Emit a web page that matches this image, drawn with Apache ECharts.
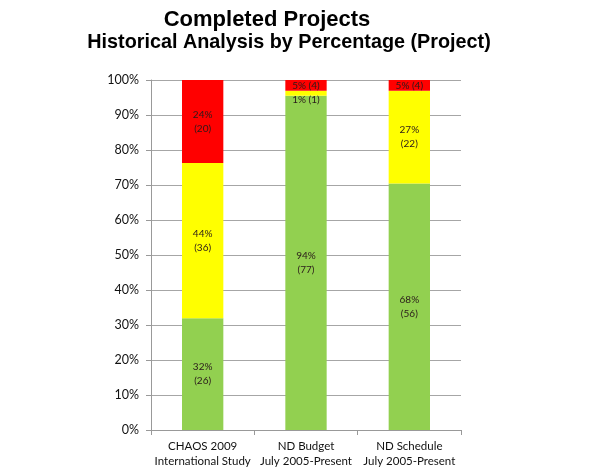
<!DOCTYPE html>
<html>
<head>
<meta charset="utf-8">
<script src="https://cdn.jsdelivr.net/npm/echarts@6/dist/echarts.min.js"></script>
<style>html,body{margin:0;padding:0;background:#fff;}#c{width:596px;height:474px;}</style>
</head>
<body>
<div id="c"></div>
<script>
var categories = ['CHAOS 2009\nInternational Study', 'ND Budget\nJuly 2005-Present', 'ND Schedule\nJuly 2005-Present'];
var greenValues = [31.9, 95.5, 70.4];
var yellowValues = [44.4, 1.4, 26.5];
var redValues = [23.7, 3.1, 3.1];
var greenLabels = ['32%\n(26)', '94%\n(77)', '68%\n(56)'];
var yellowLabels = ['44%\n(36)', '1% (1)', '27%\n(22)'];
var redLabels = ['24%\n(20)', '5% (4)', '5% (4)'];
var yTicks = [0, 10, 20, 30, 40, 50, 60, 70, 80, 90, 100];

var chart = echarts.init(document.getElementById('c'), null, {renderer: 'canvas'});
var FONT = 'Lato, "Open Sans", sans-serif';
var TFONT = 'Arial, "Liberation Sans", sans-serif';

function mk(name, vals, labels, color, offsets) {
  return {
    name: name, type: 'bar', stack: 'a', barWidth: '40%',
    itemStyle: {color: color},
    label: {
      show: true, position: 'inside', color: '#2a1a1a', fontFamily: FONT, fontSize: 10, lineHeight: 14,
      formatter: function (p) { return labels[p.dataIndex]; }
    },
    data: vals.map(function (v, i) {
      var d = {value: v};
      if (offsets && offsets[i]) d.label = {offset: offsets[i]};
      return d;
    })
  };
}

chart.setOption({
  animation: false,
  title: [
    {text: 'Completed Projects', left: 262, top: 4, textAlign: 'center',
     textStyle: {fontFamily: TFONT, fontWeight: 'bold', fontSize: 22, color: '#000'}},
    {text: 'Historical Analysis by Percentage (Project)', left: 284, top: 28, textAlign: 'center',
     textStyle: {fontFamily: TFONT, fontWeight: 'bold', fontSize: 19.8, color: '#000'}}
  ],
  grid: {left: 151, top: 80, width: 310, height: 350, containLabel: false},
  xAxis: {
    type: 'category', data: categories,
    axisLine: {lineStyle: {color: '#999', width: 1}},
    axisTick: {show: true, length: 5, lineStyle: {color: '#999'}},
    axisLabel: {color: '#111', fontFamily: FONT, fontSize: 11.5, lineHeight: 15, margin: 9, interval: 0}
  },
  yAxis: {
    type: 'value', min: 0, max: 100, interval: 10,
    axisLine: {show: true, lineStyle: {color: '#999', width: 1}},
    axisTick: {show: true, length: 5, inside: false, lineStyle: {color: '#999'}},
    splitLine: {lineStyle: {color: '#a6a6a6', width: 1}},
    axisLabel: {color: '#111', fontFamily: FONT, fontSize: 12.5, margin: 12,
      formatter: function (v) { return yTicks.indexOf(v) >= 0 ? v + '%' : ''; }}
  },
  series: [
    mk('green', greenValues, greenLabels, '#92D050'),
    mk('yellow', yellowValues, yellowLabels, '#FFFF00', [null, [0, 6], null]),
    mk('red', redValues, redLabels, '#FF0000')
  ]
});
</script>
</body>
</html>
